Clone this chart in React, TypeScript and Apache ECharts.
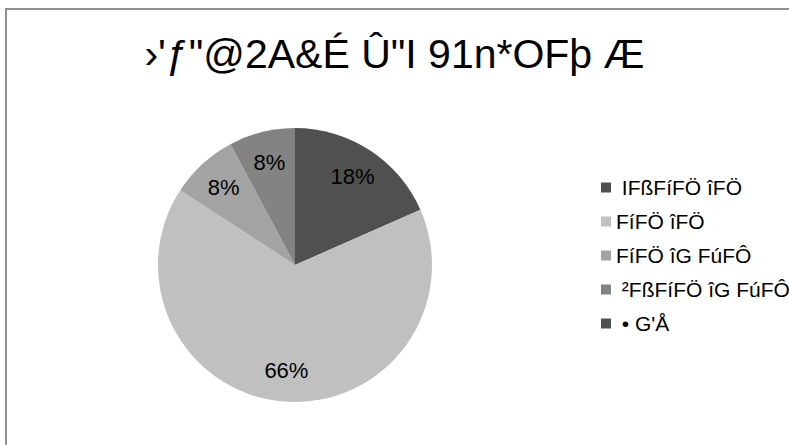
import React, { useEffect, useRef } from "react";
import * as echarts from "echarts";

const TITLE = "›'ƒ\"@2A&É Û\"I 91n*OFþ Æ";
const categories = [" IFßFíFÖ îFÖ", "FíFÖ îFÖ", "FíFÖ îG FúFÔ", " ²FßFíFÖ îG FúFÔ", " • G'Å"];
const values = [18.4, 65.8, 8.0, 7.8, 0];
const colors = ["#505050", "#c0c0c0", "#a3a3a3", "#838383", "#505050"];

const CENTER: [number, number] = [295, 265];
const RADIUS = 137;

export default function App() {
  const ref = useRef<HTMLDivElement>(null);
  useEffect(() => {
    if (!ref.current) return;
    const chart = echarts.init(ref.current, undefined, { renderer: "svg" });
    const total = values.reduce((a, b) => a + b, 0);
    chart.setOption({
      animation: false,
      backgroundColor: "#ffffff",
      title: {
        text: TITLE,
        left: "center",
        top: 28,
        textStyle: {
          fontFamily: "Liberation Sans, Arial, sans-serif",
          fontSize: 41,
          fontWeight: "normal",
          color: "#000000",
        },
      },
      legend: {
        orient: "vertical",
        left: 596,
        top: 172,
        itemWidth: 10,
        itemHeight: 10,
        itemGap: 13,
        icon: "rect",
        data: categories,
        selectedMode: false,
        textStyle: {
          fontFamily: "Liberation Sans, Arial, sans-serif",
          fontSize: 21,
          color: "#000000",
        },
      },
      graphic: [
        {
          type: "rect",
          shape: { x: 6, y: 9, width: 900, height: 600 },
          style: { fill: "none", stroke: "#8f8f8f", lineWidth: 2 },
          silent: true,
        },
      ],
      series: [
        {
          type: "pie",
          center: CENTER,
          radius: RADIUS,
          startAngle: 90,
          clockwise: true,
          silent: true,
          avoidLabelOverlap: false,
          label: {
            show: true,
            position: "inside",
            fontFamily: "Liberation Sans, Arial, sans-serif",
            fontSize: 22,
            color: "#000000",
            formatter: (p: any) => (p.value > 0 ? Math.round((p.value / total) * 100) + "%" : ""),
          },
          labelLine: { show: false },
          labelLayout: (p: any) => {
            const r = p.labelRect;
            const lx = r.x + r.width / 2;
            const ly = r.y + r.height / 2;
            const dx = lx - CENTER[0];
            const dy = ly - CENTER[1];
            const d = Math.sqrt(dx * dx + dy * dy) || 1;
            const k = (RADIUS * 0.77) / d;
            return { dx: dx * (k - 1), dy: dy * (k - 1) };
          },
          itemStyle: { borderWidth: 0 },
          data: categories.map((name, i) => ({
            name,
            value: values[i],
            itemStyle: { color: colors[i] },
          })),
        },
      ],
    });
    return () => chart.dispose();
  }, []);
  return (
    <div
      ref={ref}
      style={{ position: "absolute", left: 0, top: 0, width: 789, height: 445 }}
    />
  );
}
